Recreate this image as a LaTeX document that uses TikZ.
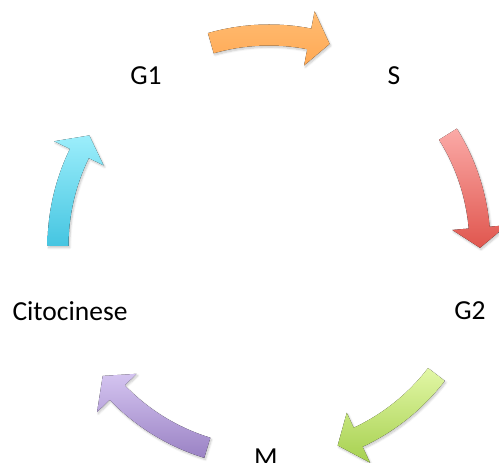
\documentclass[tikz,border=0pt]{standalone}
\usepackage{fontspec}
\setmainfont{Carlito}
\usetikzlibrary{shadows.blur}

% arrow colours, light (top) and dark (bottom) of each gradient
\definecolor{orangeT}{HTML}{FFBC72}
\definecolor{orangeB}{HTML}{FFA955}
\definecolor{redT}{HTML}{FBAAA7}
\definecolor{redB}{HTML}{E0564E}
\definecolor{greenT}{HTML}{E2F7A6}
\definecolor{greenB}{HTML}{A6D04F}
\definecolor{violetT}{HTML}{D4C4F0}
\definecolor{violetB}{HTML}{9A82C4}
\definecolor{cyanT}{HTML}{9CEEFB}
\definecolor{cyanB}{HTML}{45C5E1}

% one curved block arrow on the cycle ring:
% #1 tail angle, #2 head-base angle, #3 tip angle, #4/#5 gradient colours
\newcommand{\cyclearrow}[5]{%
  \fill[arrowbody, top color=#4, bottom color=#5]
    (#1:221.5pt) arc[start angle=#1, end angle=#2, radius=221.5pt]
    -- (#2:239pt) -- (#3:211pt) -- (#2:184pt)
    -- (#2:200.5pt) arc[start angle=#2, end angle=#1, radius=200.5pt]
    -- cycle;}

\tikzset{
  label/.style={font=\fontsize{27.5}{32}\selectfont, text=black, inner sep=0pt},
  arrowbody/.style={blur shadow={shadow xshift=1.2pt, shadow yshift=-1.8pt,
      shadow blur steps=6, shadow opacity=22, shadow blur radius=2pt}},
}

\begin{document}
\begin{tikzpicture}[x=1pt,y=1pt]
  \useasboundingbox (0,0) rectangle (499,463);
  \clip (0,0) rectangle (499,463);

  % stage labels on a pentagon around the cycle centre
  \node[label] (g1)  at (146,387) {G1};
  \node[label] (s)   at (394,387) {S};
  \node[label] (g2)  at (470,152) {G2};
  \node[label] (m)   at (266,5)   {M};
  \node[label] (cit) at (70,152)  {Citocinese};

  % curved arrows between consecutive stages
  \begin{scope}[shift={(269,217)}]
    \cyclearrow{106}{79}{73.3}{orangeT}{orangeB}
    \cyclearrow{32}{5}{-0.5}{redT}{redB}
    \cyclearrow{-37.5}{-65}{-71}{greenT}{greenB}
    \cyclearrow{-107}{-136}{-142}{violetT}{violetB}
    \cyclearrow{180}{154}{148.4}{cyanT}{cyanB}
  \end{scope}
\end{tikzpicture}
\end{document}
